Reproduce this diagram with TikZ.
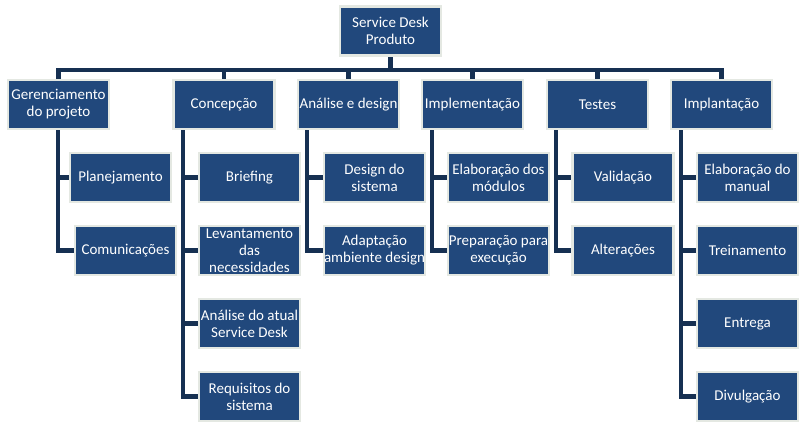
\documentclass[tikz,border=0pt]{standalone}
\usepackage{fontspec}
\setmainfont{Carlito}
\usetikzlibrary{calc}
\pgfdeclarelayer{bg}
\pgfsetlayers{bg,main}
\definecolor{boxblue}{RGB}{33,72,124}
\definecolor{boxedge}{RGB}{228,232,226}
\definecolor{conn}{RGB}{22,48,82}
\tikzset{
  box/.style={rectangle, fill=boxblue, draw=boxedge, line width=2.2pt, text=white,
    minimum width=101pt, minimum height=49pt, inner sep=0pt, align=center,
    font=\fontsize{15pt}{17pt}\selectfont},
  link/.style={draw=conn, line width=4.2pt, line cap=rect, line join=miter}
}
\begin{document}
\begin{tikzpicture}[x=1pt,y=-1pt]
\useasboundingbox (0,0) rectangle (805,424);
% root
\node[box] (root) at (390.5,31) {Service Desk\\Produto};
% level 1
\node[box] (g) at (58.5,104.5) {Gerenciamento\\do projeto};
\node[box] (c) at (224,104.5) {Concepção};
\node[box] (a) at (348.5,104.5) {Análise e design};
\node[box] (i) at (472.5,104.5) {Implementação};
\node[box] (t) at (597.5,104.5) {Testes};
\node[box] (p) at (721.5,104.5) {Implantação};
% children
\node[box] (g1) at (120.5,177.5) {Planejamento};
\node[box] (g2) at (125.5,250.5) {Comunicações};
\node[box] (c1) at (249.5,177.5) {Briefing};
\node[box] (c2) at (249.5,250.5) {Levantamento\\das\\necessidades};
\node[box] (c3) at (249.5,323.5) {Análise do atual\\Service Desk};
\node[box] (c4) at (249.5,396.5) {Requisitos do\\sistema};
\node[box] (a1) at (374.5,177.5) {Design do\\sistema};
\node[box] (a2) at (374.5,250.5) {Adaptação\\ambiente design};
\node[box] (i1) at (498.5,177.5) {Elaboração dos\\módulos};
\node[box] (i2) at (498.5,250.5) {Preparação para\\execução};
\node[box] (t1) at (623,177.5) {Validação};
\node[box] (t2) at (623,250.5) {Alterações};
\node[box] (p1) at (747.5,177.5) {Elaboração do\\manual};
\node[box] (p2) at (747.5,250.5) {Treinamento};
\node[box] (p3) at (747.5,323.5) {Entrega};
\node[box] (p4) at (747.5,396.5) {Divulgação};
% trunk coordinates
\coordinate (gL) at (58,129);
\coordinate (cL) at (183,129);
\coordinate (aL) at (307,129);
\coordinate (iL) at (432,129);
\coordinate (tL) at (556,129);
\coordinate (pL) at (681,129);
\begin{pgfonlayer}{bg}
\foreach \n in {g,c,a,i,t,p}
  \draw[link] (root.south) -- ++(0,13) -| (\n.north);
\foreach \n in {g1,g2} \draw[link] (gL) |- (\n.west);
\foreach \n in {c1,c2,c3,c4} \draw[link] (cL) |- (\n.west);
\foreach \n in {a1,a2} \draw[link] (aL) |- (\n.west);
\foreach \n in {i1,i2} \draw[link] (iL) |- (\n.west);
\foreach \n in {t1,t2} \draw[link] (tL) |- (\n.west);
\foreach \n in {p1,p2,p3,p4} \draw[link] (pL) |- (\n.west);
\end{pgfonlayer}
\end{tikzpicture}
\end{document}
